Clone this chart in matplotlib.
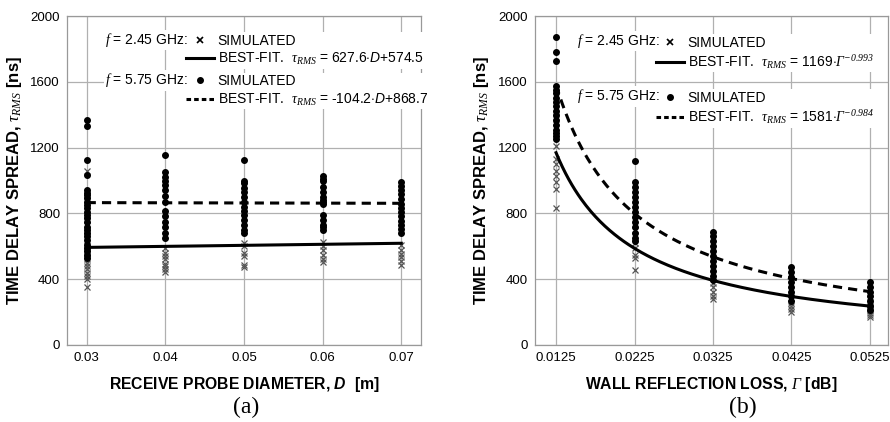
import numpy as np
import matplotlib
matplotlib.use("Agg")
import matplotlib.pyplot as plt
from matplotlib.lines import Line2D

plt.rcParams["font.family"] = ["Liberation Sans", "DejaVu Sans"]
# italic serif for the symbols (tau, f, Gamma and the exponents)
plt.rcParams["mathtext.fontset"] = "custom"
plt.rcParams["mathtext.rm"] = "Liberation Serif:italic"
plt.rcParams["mathtext.it"] = "Liberation Serif:italic"
plt.rcParams["mathtext.bf"] = "Liberation Sans:bold:italic"
plt.rcParams["mathtext.sf"] = "Liberation Sans:italic"

# ---- panel (a): receive probe diameter ----
diam = [0.03, 0.04, 0.05, 0.06, 0.07]
sim_245_a = [
    [1060, 880, 760, 690, 640, 600, 580, 560, 540, 520, 500, 480, 460, 440, 420, 400, 355],
    [588, 560, 540, 520, 495, 480, 465, 445],
    [618, 600, 558, 540, 485, 475],
    [626, 600, 575, 545, 520, 505],
    [606, 580, 555, 535, 510, 485],
]
sim_575_a = [
    [1368, 1333, 1127, 1036, 940, 925, 910, 895, 870, 850, 830, 810, 790, 770, 745,
     720, 700, 680, 660, 640, 610, 590, 570, 545, 530],
    [1157, 1050, 1020, 1000, 970, 945, 905, 870, 815, 785, 750, 715, 680, 650],
    [1127, 1000, 985, 955, 930, 900, 870, 840, 815, 790, 760, 730, 700, 680],
    [1026, 1010, 1000, 960, 930, 900, 880, 870, 855, 790, 760, 730, 715, 700],
    [990, 965, 940, 915, 885, 860, 835, 810, 785, 755, 730, 705, 680],
]
fit_245_a = (627.6, 574.5)
fit_575_a = (-104.2, 868.7)

# ---- panel (b): wall reflection loss ----
gamma = [0.0125, 0.0225, 0.0325, 0.0425, 0.0525]
sim_245_b = [
    [1376, 1212, 1133, 1100, 1060, 1030, 990, 950, 830],
    [700, 620, 588, 545, 530, 455],
    [375, 350, 320, 300, 280],
    [255, 240, 220, 200],
    [260, 240, 225, 210, 195, 180, 170],
]
sim_575_b = [
    [1873, 1782, 1727, 1576, 1550, 1530, 1500, 1480, 1450, 1420, 1400, 1370, 1340,
     1310, 1290, 1270, 1254],
    [1121, 990, 960, 930, 900, 870, 840, 810, 780, 750, 720, 680, 650, 630],
    [687, 660, 630, 600, 570, 540, 510, 480, 450, 420, 395],
    [475, 445, 415, 385, 355, 325, 300, 270],
    [384, 355, 325, 300, 270, 240, 215],
]
fit_245_b = (1169, -0.993)
fit_575_b = (1581, -0.984)

GRID = "#b0b0b0"


def style_axes(ax, xticks, xlim):
    ax.set_xlim(*xlim)
    ax.set_ylim(0, 2000)
    ax.set_xticks(xticks)
    ax.set_yticks([0, 400, 800, 1200, 1600, 2000])
    ax.grid(True, color=GRID, linewidth=0.9)
    ax.set_axisbelow(True)
    for s in ax.spines.values():
        s.set_color("#999999")
        s.set_linewidth(0.9)
    ax.tick_params(length=0, pad=5, labelsize=9.5)
    ax.set_ylabel(r"TIME DELAY SPREAD, $\tau_{RMS}$ [ns]",
                  fontsize=12, fontweight="bold", labelpad=5)


def scatter_columns(ax, xs, cols, **kw):
    for x, col in zip(xs, cols):
        ax.plot([x] * len(col), col, linestyle="none", **kw)


def add_key(ax, flabel, fit_label, fit_ls, marker, mew, ms, fx, fy, lx, ly):
    ax.text(fx, fy, flabel, transform=ax.transAxes, fontsize=10, va="center",
            ha="left", zorder=8,
            bbox=dict(facecolor="white", edgecolor="none", pad=1))
    handles = [
        Line2D([], [], linestyle="none", marker=marker, color="black",
               markeredgewidth=mew, markersize=ms),
        Line2D([], [], color="black", linestyle=fit_ls, linewidth=2.2),
    ]
    leg = ax.legend(handles, ["SIMULATED", fit_label], loc="upper left",
                    bbox_to_anchor=(lx, ly), frameon=True, fontsize=10,
                    handlelength=2.0, handletextpad=0.25, labelspacing=0.25,
                    borderpad=0.1, borderaxespad=0, fancybox=False)
    leg.get_frame().set_facecolor("white")
    leg.get_frame().set_edgecolor("none")
    leg.get_frame().set_alpha(1)
    ax.add_artist(leg)


fig = plt.figure(figsize=(8.9, 4.22), dpi=100)
ax_a = fig.add_axes([0.0753, 0.1825, 0.3977, 0.7795])
ax_b = fig.add_axes([0.601, 0.1825, 0.3966, 0.7795])

cross = dict(marker="x", color="#555555", markersize=4.2, markeredgewidth=0.9)
dot = dict(marker="o", color="black", markersize=4.0)

# panel (a)
scatter_columns(ax_a, diam, sim_245_a, **cross)
scatter_columns(ax_a, diam, sim_575_a, **dot)
d = np.linspace(diam[0], diam[-1], 50)
ax_a.plot(d, fit_245_a[0] * d + fit_245_a[1], color="black", linewidth=2.2)
ax_a.plot(d, fit_575_a[0] * d + fit_575_a[1], color="black", linewidth=2.2,
          linestyle=(0, (3, 2)))
style_axes(ax_a, diam, (0.0275, 0.0725))
ax_a.set_xticklabels([f"{v:.2f}" for v in diam])
ax_a.set_xlabel(r"RECEIVE PROBE DIAMETER, $\mathbf{D}$  [m]", fontsize=11.3,
                fontweight="bold", labelpad=8)
add_key(ax_a, r"$f$ = 2.45 GHz:", r"BEST-FIT.  $\tau_{RMS}$ = 627.6$\cdot$$\mathsf{D}$+574.5",
        "-", "x", 1.2, 4, 0.107, 0.927, 0.333, 0.95)
add_key(ax_a, r"$f$ = 5.75 GHz:", r"BEST-FIT.  $\tau_{RMS}$ = -104.2$\cdot$$\mathsf{D}$+868.7",
        (0, (1.5, 1)), "o", 1, 4, 0.107, 0.805, 0.333, 0.828)
fig.text(0.277, 0.022, "(a)", family=["Liberation Serif"], fontsize=17, ha="center")

# panel (b)
idx = np.arange(1, len(gamma) + 1)
scatter_columns(ax_b, gamma, sim_245_b, **cross)
scatter_columns(ax_b, gamma, sim_575_b, **dot)
t = np.linspace(1, len(gamma), 200)
g = np.interp(t, idx, gamma)
ax_b.plot(g, fit_245_b[0] * t ** fit_245_b[1], color="black", linewidth=2.2)
ax_b.plot(g, fit_575_b[0] * t ** fit_575_b[1], color="black", linewidth=2.2,
          linestyle=(0, (3, 2)))
style_axes(ax_b, gamma, (0.0098, 0.0548))
ax_b.set_xticklabels([f"{v:.4f}" for v in gamma])
ax_b.set_xlabel(r"WALL REFLECTION LOSS, $\Gamma$ [dB]", fontsize=11.3,
                fontweight="bold", labelpad=8)
add_key(ax_b, r"$f$ = 2.45 GHz:",
        r"BEST-FIT.  $\tau_{RMS}$ = 1169$\cdot\Gamma^{-0.993}$",
        "-", "x", 1.2, 4, 0.119, 0.924, 0.34, 0.945)
add_key(ax_b, r"$f$ = 5.75 GHz:",
        r"BEST-FIT.  $\tau_{RMS}$ = 1581$\cdot\Gamma^{-0.984}$",
        (0, (1.5, 1)), "o", 1, 4, 0.119, 0.756, 0.34, 0.777)
fig.text(0.835, 0.022, "(b)", family=["Liberation Serif"], fontsize=17, ha="center")

fig.savefig("out.png", dpi=100)
